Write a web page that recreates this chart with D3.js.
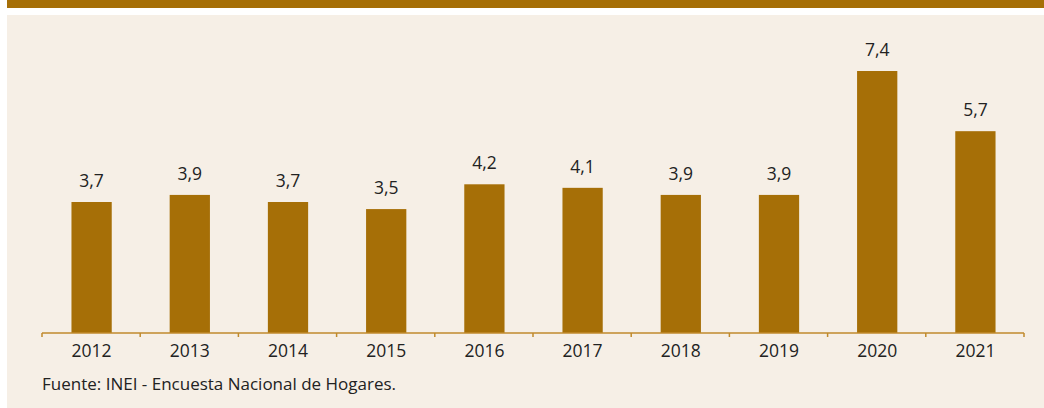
<!DOCTYPE html>
<html>
<head>
<meta charset="utf-8">
<script src="https://cdn.jsdelivr.net/npm/d3@7"></script>
<style>
  body { margin: 0; background: #ffffff; }
  svg { display: block; }
</style>
</head>
<body>
<div id="chart_box"></div>
<script>
years = ["2012", "2013", "2014", "2015", "2016", "2017", "2018", "2019", "2020", "2021"]
values = [3.7, 3.9, 3.7, 3.5, 4.2, 4.1, 3.9, 3.9, 7.4, 5.7]
valueLabels = ["3,7", "3,9", "3,7", "3,5", "4,2", "4,1", "3,9", "3,9", "7,4", "5,7"]
sourceText = "Fuente: INEI - Encuesta Nacional de Hogares."

width = 1044
height = 408
brown = "#a66f07"
fontFamily = "'Open Sans', 'Noto Sans', sans-serif"

const svg = d3.select("#chart_box").append("svg")
    .attr("width", width)
    .attr("height", height)

// top band and beige panel
svg.append("rect").attr("x", 7).attr("y", 0).attr("width", width - 7).attr("height", 8).attr("fill", brown)
svg.append("rect").attr("x", 7).attr("y", 15).attr("width", width - 7).attr("height", height - 15).attr("fill", "#f6efe6")

baseY = 333

x = d3.scaleBand()
    .domain(years)
    .range([42, 1024])
    .paddingInner(0.59)
    .paddingOuter(0.295)

y = d3.scaleLinear()
    .domain([0, 7.4])
    .range([baseY, 71])

const bars = svg.append("g")

bars.selectAll("rect")
    .data(values)
    .join("rect")
    .attr("x", (d, i) => x(years[i]) + 0.5)
    .attr("y", d => y(d))
    .attr("width", x.bandwidth())
    .attr("height", d => baseY - y(d))
    .attr("fill", brown)

bars.selectAll("text")
    .data(values)
    .join("text")
    .attr("x", (d, i) => x(years[i]) + x.bandwidth() / 2 + 0.5)
    .attr("y", d => y(d) - 15)
    .attr("text-anchor", "middle")
    .attr("font-family", fontFamily)
    .attr("font-size", "17.5px")
    .attr("fill", "#222")
    .text((d, i) => valueLabels[i])

// axis line with ticks at band edges
const axis = svg.append("g")
axis.append("line")
    .attr("x1", 42).attr("x2", 1024)
    .attr("y1", baseY).attr("y2", baseY)
    .attr("stroke", "#c08a2c").attr("stroke-width", 1.5)

tickEdges = years.map(yr => x(yr) - x.step() * x.paddingInner() / 2)
tickEdges.push(1024)
axis.selectAll(".tick")
    .data(tickEdges)
    .join("line")
    .attr("class", "tick")
    .attr("x1", d => d).attr("x2", d => d)
    .attr("y1", baseY).attr("y2", baseY + 4)
    .attr("stroke", "#c08a2c").attr("stroke-width", 1.5)

axis.selectAll("text")
    .data(years)
    .join("text")
    .attr("x", d => x(d) + x.bandwidth() / 2 + 0.5)
    .attr("y", 357)
    .attr("text-anchor", "middle")
    .attr("font-family", fontFamily)
    .attr("font-size", "17.5px")
    .attr("fill", "#222")
    .text(d => d)

svg.append("text")
    .attr("x", 42)
    .attr("y", 390)
    .attr("font-family", fontFamily)
    .attr("font-size", "17px")
    .attr("fill", "#222")
    .text(sourceText)
</script>
</body>
</html>
